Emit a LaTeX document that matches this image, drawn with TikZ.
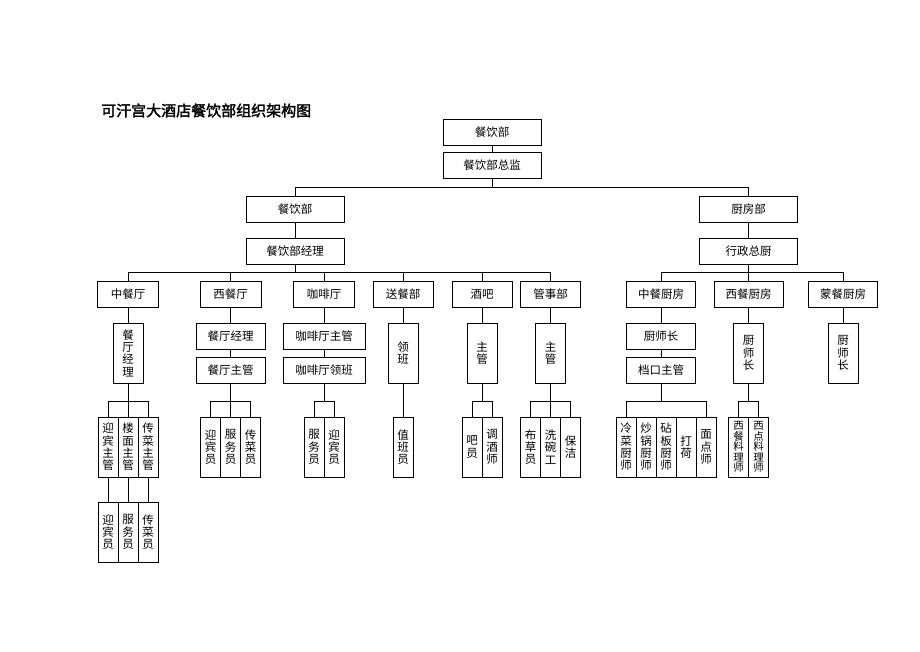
\documentclass[tikz,border=0pt]{standalone}
\usepackage{fontspec}
\newfontfamily\cjk[AutoFakeBold=2]{Noto Sans CJK SC}
\begin{document}
\begin{tikzpicture}[x=1pt,y=-1pt,
  bx/.style={draw, line width=0.9pt, inner sep=0pt, align=center, fill=white,
    font=\cjk\fontsize{11.5}{12.3}\selectfont},
  hb/.style={bx, minimum width=#1, minimum height=26},
  vb/.style={bx, minimum width=30, minimum height=60},
  nb/.style={bx, minimum width=20, minimum height=60},
  ln/.style={line width=0.9pt}]
\fill[white] (0,0) rectangle (920,651);
\useasboundingbox (0,0) rectangle (920,651);
\coordinate (b1) at (0,187);
\coordinate (b2) at (0,272);
\coordinate (b3) at (0,401);
% title
\node[anchor=west, inner sep=0pt, font=\cjk\bfseries\fontsize{15}{16}\selectfont] (title) at (101,110.5) {可汗宫大酒店餐饮部组织架构图};
% top
\node[hb=98] (top) at (492,132) {餐饮部};
\node[hb=98] (dir) at (492,165.5) {餐饮部总监};
\node[hb=98] (fb) at (295,209) {餐饮部};
\node[hb=98] (fbm) at (295,251) {餐饮部经理};
\node[hb=98] (kt) at (748.5,209) {厨房部};
\node[hb=98] (ktm) at (748.5,251) {行政总厨};
% level 3
\node[hb=61] (cs) at (128,294.5) {中餐厅};
\node[hb=61] (xs) at (230.5,294.5) {西餐厅};
\node[hb=61] (ks) at (324,294.5) {咖啡厅};
\node[hb=60] (ss) at (403,294.5) {送餐部};
\node[hb=60] (jb) at (482,294.5) {酒吧};
\node[hb=60] (gs) at (550.5,294.5) {管事部};
\node[hb=69] (zc) at (661,294.5) {中餐厨房};
\node[hb=69] (xc) at (748.5,294.5) {西餐厨房};
\node[hb=69] (mc) at (843,294.5) {蒙餐厨房};
% level 4
\node[vb] (csm) at (128,353) {餐\\厅\\经\\理};
\node[hb=69] (xs1) at (230.5,336) {餐厅经理};
\node[hb=69] (xs2) at (230.5,370) {餐厅主管};
\node[hb=82] (ks1) at (324,336) {咖啡厅主管};
\node[hb=82] (ks2) at (324,370) {咖啡厅领班};
\node[vb] (ssm) at (403,353) {领\\班};
\node[vb] (jbm) at (482,353) {主\\管};
\node[vb] (gsm) at (550.5,353) {主\\管};
\node[hb=69] (zc1) at (661,336) {厨师长};
\node[hb=69] (zc2) at (661,370) {档口主管};
\node[vb] (xcm) at (748.5,353) {厨\\师\\长};
\node[vb] (mcm) at (843,353) {厨\\师\\长};
% level 5
\node[nb] (c1) at (108,447) {迎\\宾\\主\\管};
\node[nb] (c2) at (128,447) {楼\\面\\主\\管};
\node[nb] (c3) at (148,447) {传\\菜\\主\\管};
\node[nb] (d1) at (108,532) {迎\\宾\\员};
\node[nb] (d2) at (128,532) {服\\务\\员};
\node[nb] (d3) at (148,532) {传\\菜\\员};
\node[nb] (x1) at (210.5,447) {迎\\宾\\员};
\node[nb] (x2) at (230.5,447) {服\\务\\员};
\node[nb] (x3) at (250.5,447) {传\\菜\\员};
\node[nb] (k1) at (314,447) {服\\务\\员};
\node[nb] (k2) at (334,447) {迎\\宾\\员};
\node[nb] (s1) at (403,447) {值\\班\\员};
\node[nb] (j1) at (472,447) {吧\\员};
\node[nb] (j2) at (492,447) {调\\酒\\师};
\node[nb] (g1) at (530.5,447) {布\\草\\员};
\node[nb] (g2) at (550.5,447) {洗\\碗\\工};
\node[nb] (g3) at (570.5,447) {保\\洁};
\node[nb] (z1) at (626,447) {冷\\菜\\厨\\师};
\node[nb] (z2) at (646,447) {炒\\锅\\厨\\师};
\node[nb] (z3) at (666,447) {砧\\板\\厨\\师};
\node[nb] (z4) at (686,447) {打\\荷};
\node[nb] (z5) at (706,447) {面\\点\\师};
\node[nb, font=\cjk\fontsize{10.5}{10.6}\selectfont] (w1) at (738.5,447) {西\\餐\\料\\理\\师};
\node[nb, font=\cjk\fontsize{10.5}{10.6}\selectfont] (w2) at (758.5,447) {西\\点\\料\\理\\师};
% connectors: top
\draw[ln] (top.south) -- (dir.north);
\draw[ln] (dir.south) -- (dir.south |- b1);
\draw[ln] (fb.north) |- (b1 -| kt.north) -- (kt.north);
\draw[ln] (fb.south) -- (fbm.north);
\draw[ln] (kt.south) -- (ktm.north);
% level 3 buses
\draw[ln] (fbm.south) -- (fbm.south |- b2);
\draw[ln] (cs.north) |- (b2 -| gs.north) -- (gs.north);
\foreach \n in {xs,ks,ss,jb} \draw[ln] (\n.north) -- (\n.north |- b2);
\draw[ln] (ktm.south) -- (ktm.south |- b2);
\draw[ln] (zc.north) |- (b2 -| mc.north) -- (mc.north);
\draw[ln] (xc.north) -- (xc.north |- b2);
% level 4
\draw[ln] (cs.south) -- (csm.north);
\draw[ln] (xs.south) -- (xs1.north);
\draw[ln] (xs1.south) -- (xs2.north);
\draw[ln] (ks.south) -- (ks1.north);
\draw[ln] (ks1.south) -- (ks2.north);
\draw[ln] (ss.south) -- (ssm.north);
\draw[ln] (jb.south) -- (jbm.north);
\draw[ln] (gs.south) -- (gsm.north);
\draw[ln] (zc.south) -- (zc1.north);
\draw[ln] (zc1.south) -- (zc2.north);
\draw[ln] (xc.south) -- (xcm.north);
\draw[ln] (mc.south) -- (mcm.north);
% level 5 brackets
\draw[ln] (csm.south) -- (csm.south |- b3);
\draw[ln] (c1.north) |- (b3 -| c3.north) -- (c3.north);
\draw[ln] (c2.north) -- (c2.north |- b3);
\draw[ln] (c1.south) -- (d1.north);
\draw[ln] (c2.south) -- (d2.north);
\draw[ln] (c3.south) -- (d3.north);
\draw[ln] (xs2.south) -- (xs2.south |- b3);
\draw[ln] (x1.north) |- (b3 -| x3.north) -- (x3.north);
\draw[ln] (x2.north) -- (x2.north |- b3);
\draw[ln] (ks2.south) -- (ks2.south |- b3);
\draw[ln] (k1.north) |- (b3 -| k2.north) -- (k2.north);
\draw[ln] (ssm.south) -- (s1.north);
\draw[ln] (jbm.south) -- (jbm.south |- b3);
\draw[ln] (j1.north) |- (b3 -| j2.north) -- (j2.north);
\draw[ln] (gsm.south) -- (gsm.south |- b3);
\draw[ln] (g1.north) |- (b3 -| g3.north) -- (g3.north);
\draw[ln] (g2.north) -- (g2.north |- b3);
\draw[ln] (zc2.south) -- (zc2.south |- b3);
\draw[ln] (z1.north) |- (b3 -| z5.north) -- (z5.north);
\draw[ln] (xcm.south) -- (xcm.south |- b3);
\draw[ln] (w1.north) |- (b3 -| w2.north) -- (w2.north);
\end{tikzpicture}
\end{document}
